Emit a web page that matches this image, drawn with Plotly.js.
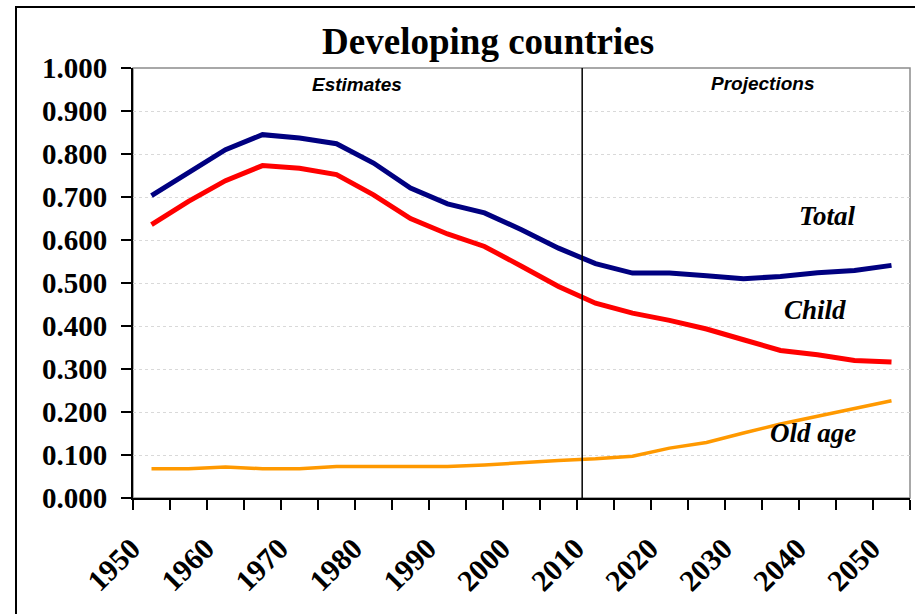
<!DOCTYPE html>
<html>
<head>
<meta charset="utf-8">
<script src="https://cdn.plot.ly/plotly-3.0.1.min.js"></script>
<style>
  html, body { margin: 0; padding: 0; background: #fff; }
  #wrap { position: relative; width: 915px; height: 614px; overflow: hidden; }
  #chart { position: absolute; left: 0; top: 0; width: 915px; height: 614px; }
  #frame { position: absolute; left: 15px; top: 6px; width: 1000px; height: 700px;
           border-left: 2px solid #000; border-top: 2px solid #000; pointer-events: none; }
</style>
</head>
<body>
<div id="wrap"><div id="chart"></div><div id="frame"></div></div>
<script>
// ---- data ----
const years = [1950,1955,1960,1965,1970,1975,1980,1985,1990,1995,2000,2005,2010,2015,2020,2025,2030,2035,2040,2045,2050];
const totalRatio = [0.703,0.756,0.810,0.845,0.837,0.824,0.779,0.721,0.684,0.663,0.624,0.581,0.545,0.523,0.523,0.517,0.510,0.515,0.524,0.529,0.541];
const childRatio = [0.636,0.690,0.738,0.773,0.767,0.752,0.705,0.650,0.614,0.585,0.539,0.492,0.453,0.430,0.413,0.393,0.368,0.343,0.333,0.320,0.316];
const oldRatio   = [0.068,0.068,0.072,0.068,0.068,0.073,0.073,0.073,0.073,0.077,0.083,0.087,0.091,0.097,0.116,0.129,0.151,0.172,0.190,0.207,0.226];
const labelYears = [1950,1960,1970,1980,1990,2000,2010,2020,2030,2040,2050];
const yTicks = [0,0.1,0.2,0.3,0.4,0.5,0.6,0.7,0.8,0.9,1.0];
const titleText = "Developing countries";
const seriesNames = ["Total","Child","Old age"];
const dividerYear = 2008.2;

const serif = "Liberation Serif, Times New Roman, serif";
const sans = "Liberation Sans, Arial, sans-serif";
const half = 2.5;
const boundaries = years.map(y => y - half).concat([years[years.length-1] + half]);
const xRange = [years[0] - half, years[years.length-1] + half];

const traces = [
  {x: years, y: totalRatio, name: seriesNames[0], type: "scatter", mode: "lines",
   line: {color: "#000080", width: 5}, xaxis: "x", yaxis: "y"},
  {x: years, y: childRatio, name: seriesNames[1], type: "scatter", mode: "lines",
   line: {color: "#FF0000", width: 5}, xaxis: "x", yaxis: "y"},
  {x: years, y: oldRatio, name: seriesNames[2], type: "scatter", mode: "lines",
   line: {color: "#FF9900", width: 3.5}, xaxis: "x", yaxis: "y"},
  // invisible helper to activate label axis
  {x: [years[0]], y: [null], type: "scatter", mode: "lines", showlegend: false,
   hoverinfo: "skip", xaxis: "x2", yaxis: "y"}
];

const layout = {
  width: 915, height: 614,
  margin: {l: 133, r: 5, t: 68, b: 116},
  paper_bgcolor: "#fff", plot_bgcolor: "#fff",
  showlegend: false,
  title: {text: "<b>" + titleText + "</b>", font: {family: serif, size: 37, color: "#000"},
          xref: "paper", x: 0.457, xanchor: "center",
          yref: "container", y: 1 - 41/614, yanchor: "middle"},
  xaxis: {type: "linear", range: xRange, tickmode: "array", tickvals: boundaries,
          ticktext: boundaries.map(() => ""), ticks: "outside", ticklen: 10, tickwidth: 2,
          tickcolor: "#000", showline: true, linecolor: "#000", linewidth: 2,
          showgrid: false, zeroline: false, fixedrange: true},
  xaxis2: {type: "linear", range: xRange, overlaying: "x", anchor: "y", side: "bottom",
          tickmode: "array", tickvals: labelYears, ticktext: labelYears.map(String),
          ticks: "outside", ticklen: 10, tickcolor: "rgba(0,0,0,0)", tickangle: -45,
          ticklabelstandoff: 10, ticklabelshift: -20,
          tickfont: {family: serif, size: 30, color: "#000", weight: 700},
          showline: false, showgrid: false, zeroline: false, fixedrange: true},
  yaxis: {range: [0, 1], tickmode: "array", tickvals: yTicks,
          ticktext: yTicks.map(v => v.toFixed(3)),
          ticks: "outside", ticklen: 10, tickwidth: 2, tickcolor: "#000",
          ticklabelstandoff: 8,
          tickfont: {family: serif, size: 29, color: "#000", weight: 700},
          showline: true, linecolor: "#000", linewidth: 2,
          showgrid: true, gridcolor: "#d9d9d9", gridwidth: 1, griddash: "dot",
          zeroline: false, fixedrange: true},
  shapes: [
    {type: "rect", xref: "paper", yref: "paper", x0: 0, x1: 1, y0: 0, y1: 1,
     line: {color: "#8c8c8c", width: 1.5}, layer: "below"},
    {type: "line", xref: "x", yref: "y", x0: dividerYear, x1: dividerYear, y0: -0.005, y1: 1,
     line: {color: "#000", width: 1.5}}
  ],
  annotations: [
    {text: "<b><i>Estimates</i></b>", x: 1977.8, y: 0.961, xref: "x", yref: "y", showarrow: false,
     font: {family: sans, size: 19, color: "#000"}},
    {text: "<b><i>Projections</i></b>", x: 2032.6, y: 0.965, xref: "x", yref: "y", showarrow: false,
     font: {family: sans, size: 19, color: "#000"}},
    {text: "<b><i>" + seriesNames[0] + "</i></b>", x: 2041.4, y: 0.655, xref: "x", yref: "y", showarrow: false,
     font: {family: serif, size: 27, color: "#000"}},
    {text: "<b><i>" + seriesNames[1] + "</i></b>", x: 2039.6, y: 0.438, xref: "x", yref: "y", showarrow: false,
     font: {family: serif, size: 27, color: "#000"}},
    {text: "<b><i>" + seriesNames[2] + "</i></b>", x: 2039.4, y: 0.152, xref: "x", yref: "y", showarrow: false,
     font: {family: serif, size: 27, color: "#000"}}
  ]
};

Plotly.newPlot("chart", traces, layout, {displayModeBar: false, staticPlot: true});
</script>
</body>
</html>
